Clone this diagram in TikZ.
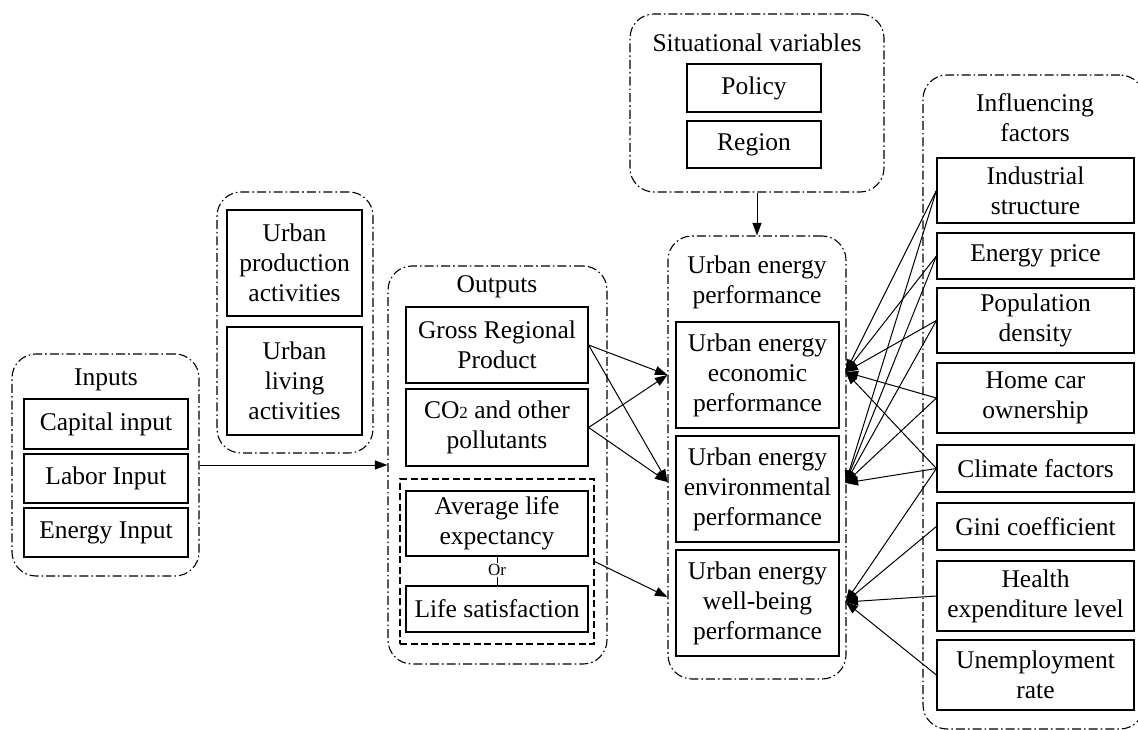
\documentclass[tikz,border=0pt]{standalone}
\usepackage{fontspec}
\setmainfont{Liberation Serif}
\usetikzlibrary{arrows.meta,calc}

\tikzset{
  box/.style={draw, line width=1.2pt, align=center, inner sep=0pt,
    font=\fontsize{25.5}{30}\selectfont},
  grp/.style={draw, line width=1.1pt, rounded corners=24pt, inner sep=0pt,
    dash pattern=on 9pt off 3pt on 1.6pt off 3pt},
  dbox/.style={draw, line width=1.1pt, inner sep=0pt, dash pattern=on 7pt off 3.5pt},
  lbl/.style={align=center, inner sep=0pt, font=\fontsize{25.5}{30}\selectfont},
  arr/.style={line width=1pt, -{Triangle[length=12.5pt,width=9pt]}},
  plain/.style={line width=1pt},
}

\begin{document}
\begin{tikzpicture}[x=1pt,y=-1pt]
\useasboundingbox (0,0) rectangle (1138,730);

% ---------- containers ----------
\node[grp, minimum width=187pt, minimum height=222pt] (gIn)   at (105.5,465) {};
\node[grp, minimum width=156pt, minimum height=261pt] (gAct)  at (295,322.5) {};
\node[grp, minimum width=219pt, minimum height=398pt] (gOut)  at (497.5,465) {};
\node[dbox, minimum width=194pt, minimum height=165pt] (dsh)  at (497,561.5) {};
\node[grp, minimum width=178pt, minimum height=443pt] (gPerf) at (757,457.5) {};
\node[grp, minimum width=254pt, minimum height=178pt] (gSit)  at (757,103) {};
\node[grp, minimum width=221pt, minimum height=654pt] (gInf)  at (1033.5,402) {};

% ---------- container titles ----------
\node[lbl] (tIn)   at (106,380) {Inputs};
\node[lbl] (tOut)  at (497,287) {Outputs};
\node[lbl] (tPerf) at (757,282) {Urban energy\\performance};
\node[lbl] (tSit)  at (757,43)  {Situational variables};
\node[lbl] (tInf)  at (1035,118) {Influencing\\factors};

% ---------- inputs ----------
\node[box, minimum width=164pt, minimum height=50pt] (cap) at (106,424)   {Capital input};
\node[box, minimum width=164pt, minimum height=49pt] (lab) at (106,478.5) {Labor Input};
\node[box, minimum width=164pt, minimum height=49pt] (ene) at (106,532.5) {Energy Input};

% ---------- activities ----------
\node[box, minimum width=135pt, minimum height=106pt] (prod) at (294.5,263) {Urban\\production\\activities};
\node[box, minimum width=135pt, minimum height=108pt] (liv)  at (294.5,381) {Urban\\living\\activities};

% ---------- outputs ----------
\node[box, minimum width=182pt, minimum height=76pt] (gdp) at (497,345)   {Gross Regional\\Product};
\node[box, minimum width=182pt, minimum height=77pt] (co2) at (497,427.5) {CO{\fontsize{17}{17}\selectfont 2} and other\\pollutants};
\node[box, minimum width=182pt, minimum height=65pt] (ale) at (497,523.5) {Average life\\expectancy};
\node[box, minimum width=182pt, minimum height=46pt] (ls)  at (497,609)   {Life satisfaction};
\node[inner sep=1pt, font=\fontsize{17}{17}\selectfont] (or) at (497,570) {Or};
\draw[plain] (ale.south) -- (or.north);
\draw[plain] (or.south) -- (ls.north);

% ---------- situational variables ----------
\node[box, minimum width=134pt, minimum height=48pt] (pol) at (754,88)    {Policy};
\node[box, minimum width=134pt, minimum height=47pt] (reg) at (754,144.5) {Region};

% ---------- performance ----------
\node[box, minimum width=163pt, minimum height=106pt] (eco) at (757.5,375) {Urban energy\\economic\\performance};
\node[box, minimum width=163pt, minimum height=106pt] (env) at (757.5,489) {Urban energy\\environmental\\performance};
\node[box, minimum width=163pt, minimum height=106pt] (wb)  at (757.5,603) {Urban energy\\well-being\\performance};

% ---------- influencing factors ----------
\node[box, minimum width=197pt, minimum height=65pt] (ind)  at (1035.5,190.5) {Industrial\\structure};
\node[box, minimum width=197pt, minimum height=46pt] (ep)   at (1035.5,256)   {Energy price};
\node[box, minimum width=197pt, minimum height=65pt] (pd)   at (1035.5,320.5) {Population\\density};
\node[box, minimum width=197pt, minimum height=70pt] (hc)   at (1035.5,398)   {Home car\\ownership};
\node[box, minimum width=197pt, minimum height=47pt] (cf)   at (1035.5,468.5) {Climate factors};
\node[box, minimum width=197pt, minimum height=47pt] (gini) at (1035.5,526.5) {Gini coefficient};
\node[box, minimum width=197pt, minimum height=70pt] (hel)  at (1035.5,596)   {Health\\expenditure level};
\node[box, minimum width=197pt, minimum height=70pt] (une)  at (1035.5,675)   {Unemployment\\rate};

% ---------- arrow end points on the performance frame ----------
\coordinate (ecoL) at ($(gPerf.west |- eco.center)$);
\coordinate (envL) at ($(gPerf.west |- env.center)+(0,-7)$);
\coordinate (wbL)  at ($(gPerf.west |- wb.center)+(0,-6)$);
\coordinate (ecoR) at ($(gPerf.east |- eco.center)+(-1,-3)$);
\coordinate (envR) at ($(gPerf.east |- env.center)+(-1,-6)$);
\coordinate (wbR)  at ($(gPerf.east |- wb.center)+(-1,-1)$);

% ---------- connectors ----------
\draw[arr] (gIn.east) -- (gIn.east -| gOut.west);
\draw[arr] (gSit.south) -- (gPerf.north);

\draw[arr] (gdp.east) -- (ecoL);
\draw[arr] (gdp.east) -- (envL);
\draw[arr] (co2.east) -- (ecoL);
\draw[arr] (co2.east) -- (envL);
\draw[arr] (dsh.east) -- (wbL);

\foreach \f in {ind,ep,pd,hc,cf}{
  \draw[arr] (\f.west) -- (ecoR);
  \draw[arr] (\f.west) -- (envR);
}
\foreach \f in {cf,gini,hel,une}{
  \draw[arr] (\f.west) -- (wbR);
}
\end{tikzpicture}
\end{document}
